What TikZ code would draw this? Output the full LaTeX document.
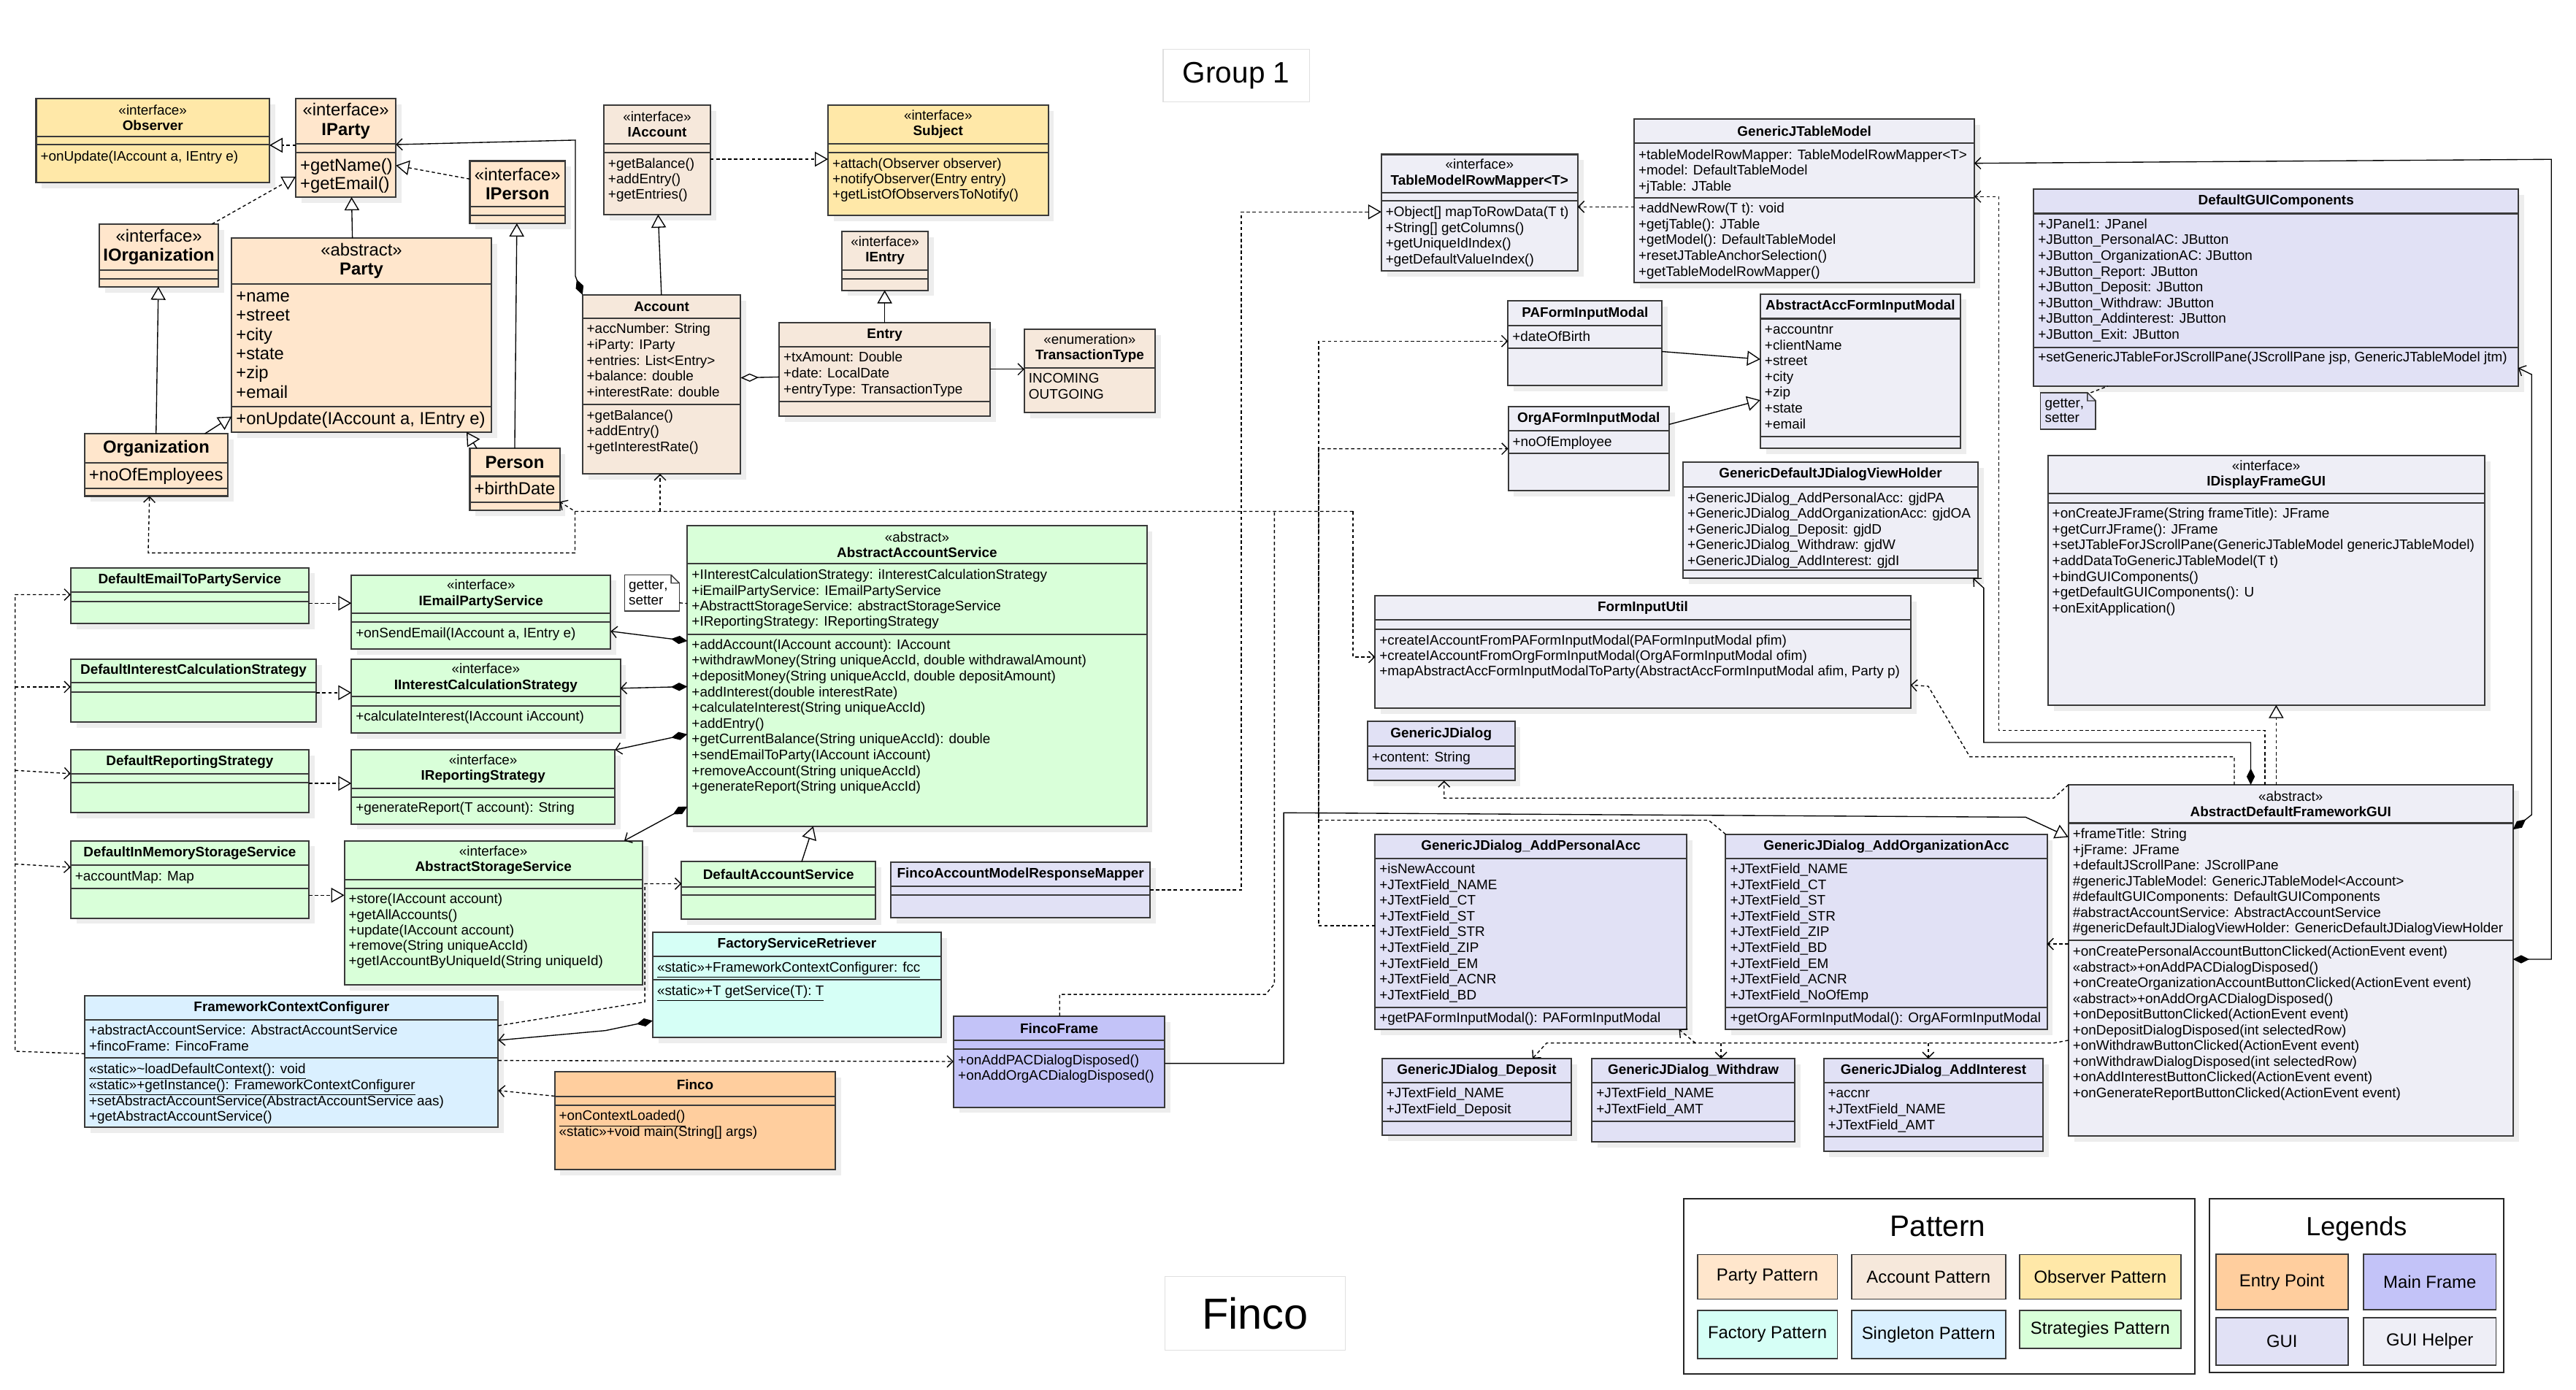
\documentclass[tikz,border=0pt]{standalone}
\usepackage{fontspec}
\setmainfont{Liberation Sans}
\usetikzlibrary{arrows.meta}

\definecolor{partyc}{HTML}{FFE6CC}
\definecolor{accc}{HTML}{F6E8DB}
\definecolor{obsc}{HTML}{FFE8A8}
\definecolor{stratc}{HTML}{D9FFD9}
\definecolor{factc}{HTML}{D6FFF6}
\definecolor{singc}{HTML}{DAF0FF}
\definecolor{entryc}{HTML}{FFCE9E}
\definecolor{mainc}{HTML}{C3C3F8}
\definecolor{guic}{HTML}{E1E1F5}
\definecolor{helpc}{HTML}{EEEEF6}
\definecolor{edgec}{HTML}{3A3A3A}

% class box: name, fill, x1, y1, x2, y2, header line, attribute line
\newcommand{\umlbox}[8]{%
  \fill[boxshadow] (#3+3.5,#4+3.5) rectangle (#5+3.5,#6+3.5);
  \node[umlrect, fill=#2, minimum width={#5-#3}, minimum height={#6-#4}] (#1) at ({(#3+#5)/2},{(#4+#6)/2}) {};
  \draw[umlline] (#3,#7) -- (#5,#7) (#3,#8) -- (#5,#8);
}
% member lines: style, x, first line centre, spacing, list
\newcommand{\umllines}[5][smalltxt]{%
  \foreach \m [count=\i from 0] in {#5}
    \node[#1] at (#2,{#3+\i*#4}) {\m};
}
% folded corner of a note: right x, top y, size
\newcommand{\notefold}[3]{%
  \fill[white] (#1-#3,#2-0.6) -- (#1+0.6,#2-0.6) -- (#1+0.6,#2+#3) -- cycle;
  \draw[umlline, line width=0.6pt] (#1-#3,#2) -- (#1,#2+#3) (#1-#3,#2) -- (#1-#3,#2+#3) -- (#1,#2+#3);
}

\begin{document}
\begin{tikzpicture}[x=1pt, y=-1pt,
  boxshadow/.style={fill=black!7},
  umlrect/.style={draw=edgec, line width=0.9pt, inner sep=0pt, outer sep=0pt},
  umlline/.style={draw=edgec, line width=0.9pt},
  smalltxt/.style={font=\fontsize{8.4}{9.6}\selectfont, inner sep=0pt, anchor=base west, yshift=-2.9pt},
  bigtxt/.style={font=\fontsize{10.6}{11.6}\selectfont, inner sep=0pt, anchor=base west, yshift=-3.7pt},
  headtxt/.style={font=\fontsize{8.4}{9.4}\selectfont, align=center, inner sep=0pt},
  bighead/.style={font=\fontsize{10.6}{11.6}\selectfont, align=center, inner sep=0pt},
  link/.style={draw=black, line width=0.6pt},
  dep/.style={link, dash pattern=on 2pt off 1.6pt, -{Straight Barb[length=3.5pt,width=7pt]}},
  assoc/.style={link, -{Straight Barb[length=3.5pt,width=7pt]}},
  inh/.style={link, -{Triangle[open,length=8pt,width=9pt]}},
  real/.style={inh, dash pattern=on 2pt off 1.6pt},
  comp/.style={link, {Diamond[length=10pt,width=5pt]}-{Straight Barb[length=3.5pt,width=7pt]}},
  aggr/.style={link, {Diamond[open,length=11pt,width=5pt]}-},
  notelink/.style={link, dash pattern=on 2pt off 1.6pt},
  notebox/.style={umlrect, line width=0.7pt},
  titlebox/.style={draw=black!12, fill=white, line width=0.6pt, inner sep=0pt},
  legbox/.style={draw=black!85, fill=white, line width=0.9pt, inner sep=0pt},
  legitem/.style={draw=edgec, line width=0.8pt, inner sep=0pt, font=\fontsize{10.6}{12}\selectfont},
]
\useasboundingbox (0,0) rectangle (1568,846);

% titles
\node[titlebox, minimum width=89, minimum height=32, font=\fontsize{18}{20}\selectfont] (grp) at (752.5,46) {Group 1};
\node[titlebox, minimum width=110, minimum height=45, font=\fontsize{26.5}{28}\selectfont] (ttl) at (764,799.5) {Finco};

% observer pattern
\umlbox{obs}{obsc}{22}{60}{164}{111}{83}{88}
\node[headtxt] (obs-t) at (93,71.5) {«interface»\\\textbf{Observer}};
\umllines{24.5}{94.9}{9.6}{{+onUpdate(IAccount a, IEntry e)}}
\umlbox{subj}{obsc}{504}{64}{638}{131}{87.4}{92.8}
\node[headtxt] (subj-t) at (571,75.7) {«interface»\\\textbf{Subject}};
\umllines{506.5}{99.4}{9.45}{{+attach(Observer observer)},{+notifyObserver(Entry entry)},+getListOfObserversToNotify()}

% party pattern
\umlbox{iparty}{partyc}{180}{60}{241}{120}{87.5}{92.8}
\node[bighead] (iparty-t) at (210.5,73.7) {«interface»\\\textbf{IParty}};
\umllines[bigtxt]{182.5}{100.3}{11.4}{+getName(),+getEmail()}
\umlbox{iperson}{partyc}{286}{98}{344}{136}{125.8}{131}
\node[bighead] (iperson-t) at (315,112) {«interface»\\\textbf{IPerson}};
\umlbox{iorg}{partyc}{60.4}{136.4}{133}{174.5}{164.4}{169.6}
\node[bighead] (iorg-t) at (96.7,150.4) {«interface»\\\textbf{IOrganization}};
\umlbox{party}{partyc}{141}{145}{299}{263}{172.7}{247.4}
\node[bighead] (party-t) at (220,158.9) {«abstract»\\\textbf{Party}};
\umllines[bigtxt]{143.5}{180.1}{11.7}{+name,+street,+city,+state,+zip,+email}
\umllines[bigtxt]{143.5}{254.8}{11.7}{{+onUpdate(IAccount a, IEntry e)}}
\umlbox{org}{partyc}{51.6}{264}{138.6}{302}{281.7}{297.5}
\node[bighead] (org-t) at (95.1,272.9) {\textbf{Organization}};
\umllines[bigtxt]{54}{289}{11.6}{+noOfEmployees}
\umlbox{person}{partyc}{286}{273}{340.7}{310.7}{290}{305.8}
\node[bighead] (person-t) at (313.3,281.5) {\textbf{Person}};
\umllines[bigtxt]{288.5}{297.5}{11.6}{+birthDate}

% account pattern
\umlbox{iacc}{accc}{367.5}{64}{432.4}{130.6}{87.4}{92.8}
\node[headtxt] (iacc-t) at (400,75.7) {«interface»\\\textbf{IAccount}};
\umllines{370}{99.4}{9.45}{+getBalance(),+addEntry(),+getEntries()}
\umlbox{acc}{accc}{354.6}{179.5}{450.8}{288.5}{193.9}{246.2}
\node[headtxt] (acc-t) at (402.7,186.7) {\textbf{Account}};
\umllines{357}{200.2}{9.6}{+accNumber: String,+iParty: IParty,+entries: List<Entry>,+balance: double,+interestRate: double}
\umllines{357}{252.8}{9.6}{+getBalance(),+addEntry(),+getInterestRate()}
\umlbox{ientry}{accc}{512.5}{140.8}{564.9}{176.7}{164.3}{169.6}
\node[headtxt] (ientry-t) at (538.7,152.5) {«interface»\\\textbf{IEntry}};
\umlbox{entry}{accc}{474.2}{196.4}{602.7}{253.4}{211.2}{244.4}
\node[headtxt] (entry-t) at (538.5,203.8) {\textbf{Entry}};
\umllines{476.7}{217.3}{9.85}{+txAmount: Double,+date: LocalDate,+entryType: TransactionType}
\umlbox{ttype}{accc}{623.5}{200.4}{703}{251}{223.8}{223.8}
\node[headtxt] (ttype-t) at (663.3,212.1) {«enumeration»\\\textbf{TransactionType}};
\umllines{626}{230.4}{9.6}{INCOMING,OUTGOING}

% gui helpers
\umlbox{tmrm}{helpc}{840.8}{94}{960.4}{164.9}{117.3}{122.3}
\node[headtxt] (tmrm-t) at (900.6,105.6) {«interface»\\\textbf{TableModelRowMapper<T>}};
\umllines{843.3}{129}{9.6}{{+Object[] mapToRowData(T t)},{+String[] getColumns()},+getUniqueIdIndex(),+getDefaultValueIndex()}
\umlbox{gjtm}{helpc}{994.7}{72.4}{1201.8}{172.2}{87.2}{120.4}
\node[headtxt] (gjtm-t) at (1098.3,79.8) {\textbf{GenericJTableModel}};
\umllines{997.2}{94}{9.6}{+tableModelRowMapper: TableModelRowMapper<T>,+model: DefaultTableModel,+jTable: JTable}
\umllines{997.2}{126.7}{9.6}{+addNewRow(T t): void,+getjTable(): JTable,+getModel(): DefaultTableModel,+resetJTableAnchorSelection(),+getTableModelRowMapper()}
\umlbox{pafim}{helpc}{917.9}{183.3}{1011.6}{234.6}{198.4}{212.1}
\node[headtxt] (pafim-t) at (964.8,190.9) {\textbf{PAFormInputModal}};
\umllines{920.4}{204.9}{9.6}{+dateOfBirth}
\umlbox{orgfim}{helpc}{918}{247.5}{1015.9}{298.5}{262.3}{276}
\node[headtxt] (orgfim-t) at (967,254.9) {\textbf{OrgAFormInputModal}};
\umllines{920.5}{268.8}{9.6}{+noOfEmployee}
\umlbox{aafim}{helpc}{1071.5}{178.9}{1193.2}{272.9}{194}{265.7}
\node[headtxt] (aafim-t) at (1132.4,186.5) {\textbf{AbstractAccFormInputModal}};
\umllines{1074}{200.4}{9.6}{+accountnr,+clientName,+street,+city,+zip,+state,+email}
\umlbox{gdvh}{helpc}{1024.5}{281.5}{1203.9}{352}{296.3}{347}
\node[headtxt] (gdvh-t) at (1114.2,288.9) {\textbf{GenericDefaultJDialogViewHolder}};
\umllines{1027}{302.9}{9.6}{+GenericJDialog\_AddPersonalAcc: gjdPA,+GenericJDialog\_AddOrganizationAcc: gjdOA,+GenericJDialog\_Deposit: gjdD,+GenericJDialog\_Withdraw: gjdW,+GenericJDialog\_AddInterest: gjdI}
\umlbox{idfg}{helpc}{1246.5}{277.3}{1512.3}{429.2}{300.6}{306.2}
\node[headtxt] (idfg-t) at (1379.4,289) {«interface»\\\textbf{IDisplayFrameGUI}};
\umllines{1249}{312.5}{9.6}{{+onCreateJFrame(String frameTitle): JFrame},+getCurrJFrame(): JFrame,{+setJTableForJScrollPane(GenericJTableModel genericJTableModel)},{+addDataToGenericJTableModel(T t)},+bindGUIComponents(),+getDefaultGUIComponents(): U,+onExitApplication()}
\umlbox{fiu}{helpc}{837}{362.5}{1163}{431}{377.5}{383}
\node[headtxt] (fiu-t) at (1000,370) {\textbf{FormInputUtil}};
\umllines{839.5}{389.6}{9.5}{{+createIAccountFromPAFormInputModal(PAFormInputModal pfim)},{+createIAccountFromOrgFormInputModal(OrgAFormInputModal ofim)},{+mapAbstractAccFormInputModalToParty(AbstractAccFormInputModal afim, Party p)}}
\umlbox{adfg}{helpc}{1259}{477.8}{1529.6}{691.6}{501.1}{572.5}
\node[headtxt] (adfg-t) at (1394.3,489.5) {«abstract»\\\textbf{AbstractDefaultFrameworkGUI}};
\umllines{1261.5}{507.6}{9.57}{+frameTitle: String,+jFrame: JFrame,+defaultJScrollPane: JScrollPane,\#genericJTableModel: GenericJTableModel<Account>,\#defaultGUIComponents: DefaultGUIComponents,\#abstractAccountService: AbstractAccountService,\#genericDefaultJDialogViewHolder: GenericDefaultJDialogViewHolder}
\umllines{1261.5}{579.1}{9.56}{{+onCreatePersonalAccountButtonClicked(ActionEvent event)},«abstract»+onAddPACDialogDisposed(),{+onCreateOrganizationAccountButtonClicked(ActionEvent event)},«abstract»+onAddOrgACDialogDisposed(),{+onDepositButtonClicked(ActionEvent event)},{+onDepositDialogDisposed(int selectedRow)},{+onWithdrawButtonClicked(ActionEvent event)},{+onWithdrawDialogDisposed(int selectedRow)},{+onAddInterestButtonClicked(ActionEvent event)},{+onGenerateReportButtonClicked(ActionEvent event)}}

% gui
\umlbox{dgc}{guic}{1237.9}{115.3}{1532.8}{235.1}{130}{211.6}
\node[headtxt] (dgc-t) at (1385.4,122.7) {\textbf{DefaultGUIComponents}};
\umllines{1240.4}{136.4}{9.57}{+JPanel1: JPanel,+JButton\_PersonalAC: JButton,+JButton\_OrganizationAC: JButton,+JButton\_Report: JButton,+JButton\_Deposit: JButton,+JButton\_Withdraw: JButton,+JButton\_Addinterest: JButton,+JButton\_Exit: JButton}
\umllines{1240.4}{217.2}{9.6}{{+setGenericJTableForJScrollPane(JScrollPane jsp, GenericJTableModel jtm)}}
\node[notebox, fill=guic, minimum width=33.6, minimum height=22.3] (gnote) at (1258.8,250.2) {};
\notefold{1275.6}{239}{5}
\umllines{1244.5}{245.2}{9}{getter\rlap{,},setter}
\umlbox{gjd}{guic}{832.5}{439.3}{922}{475.3}{454.4}{468.1}
\node[headtxt] (gjd-t) at (877.2,446.9) {\textbf{GenericJDialog}};
\umllines{835}{461}{9.6}{+content: String}
\umlbox{gjdpa}{guic}{837}{507.9}{1026.6}{626.7}{522.7}{613.3}
\node[headtxt] (gjdpa-t) at (931.8,515.3) {\textbf{GenericJDialog\_AddPersonalAcc}};
\umllines{839.5}{528.9}{9.6}{+isNewAccount,+JTextField\_NAME,+JTextField\_CT,+JTextField\_ST,+JTextField\_STR,+JTextField\_ZIP,+JTextField\_EM,+JTextField\_ACNR,+JTextField\_BD}
\umllines{839.5}{619.6}{9.6}{+getPAFormInputModal(): PAFormInputModal}
\umlbox{gjdoa}{guic}{1050.4}{507.9}{1246}{626.7}{522.7}{613.3}
\node[headtxt] (gjdoa-t) at (1148.2,515.3) {\textbf{GenericJDialog\_AddOrganizationAcc}};
\umllines{1052.9}{528.9}{9.6}{+JTextField\_NAME,+JTextField\_CT,+JTextField\_ST,+JTextField\_STR,+JTextField\_ZIP,+JTextField\_BD,+JTextField\_EM,+JTextField\_ACNR,+JTextField\_NoOfEmp}
\umllines{1052.9}{619.6}{9.6}{+getOrgAFormInputModal(): OrgAFormInputModal}
\umlbox{gjdd}{guic}{841.2}{644.4}{956.6}{691}{659}{682.5}
\node[headtxt] (gjdd-t) at (898.9,651.7) {\textbf{GenericJDialog\_Deposit}};
\umllines{843.7}{665.2}{9.9}{+JTextField\_NAME,+JTextField\_Deposit}
\umlbox{gjdw}{guic}{969}{644.4}{1092.4}{695}{659}{682.5}
\node[headtxt] (gjdw-t) at (1030.7,651.7) {\textbf{GenericJDialog\_Withdraw}};
\umllines{971.5}{665.2}{9.9}{+JTextField\_NAME,+JTextField\_AMT}
\umlbox{gjdi}{guic}{1110}{644.4}{1243.7}{701}{659}{692}
\node[headtxt] (gjdi-t) at (1176.9,651.7) {\textbf{GenericJDialog\_AddInterest}};
\umllines{1112.5}{665.2}{9.75}{+accnr,+JTextField\_NAME,+JTextField\_AMT}
\umlbox{famrm}{guic}{542.4}{524.8}{700}{558.8}{539.6}{544.9}
\node[headtxt] (famrm-t) at (621.2,532.2) {\textbf{FincoAccountModelResponseMapper}};
\umlbox{fframe}{mainc}{580.4}{618.5}{709}{674}{633.3}{638.8}
\node[headtxt] (fframe-t) at (644.7,625.9) {\textbf{FincoFrame}};
\umllines{583}{645.2}{9.3}{+onAddPACDialogDisposed(),+onAddOrgACDialogDisposed()}

% strategies
\umlbox{demail}{stratc}{43}{345.6}{188}{379.7}{360.4}{366}
\node[headtxt] (demail-t) at (115.5,353) {\textbf{DefaultEmailToPartyService}};
\umlbox{iemail}{stratc}{213.9}{350}{371.7}{395.3}{373.2}{378.8}
\node[headtxt] (iemail-t) at (292.8,361.6) {«interface»\\\textbf{IEmailPartyService}};
\umllines{216.4}{385.1}{9.6}{{+onSendEmail(IAccount a, IEntry e)}}
\node[notebox, fill=white, minimum width=33.2, minimum height=22] (snote) at (396.9,361) {};
\notefold{413.5}{350}{5}
\umllines{382.5}{356.2}{9}{getter\rlap{,},setter}
\umlbox{dint}{stratc}{43}{401.3}{192.6}{439.5}{415.7}{421.3}
\node[headtxt] (dint-t) at (117.8,408.5) {\textbf{DefaultInterestCalculationStrategy}};
\umlbox{iint}{stratc}{213.9}{401.3}{377.6}{446.3}{424.2}{429.7}
\node[headtxt] (iint-t) at (295.7,412.7) {«interface»\\\textbf{IInterestCalculationStrategy}};
\umllines{216.4}{436.1}{9.6}{+calculateInterest(IAccount iAccount)}
\umlbox{drep}{stratc}{43}{456.5}{188}{494.8}{471.3}{476.6}
\node[headtxt] (drep-t) at (115.5,463.9) {\textbf{DefaultReportingStrategy}};
\umlbox{irep}{stratc}{213.9}{456.5}{374.4}{501.6}{480}{485.5}
\node[headtxt] (irep-t) at (294.1,468.2) {«interface»\\\textbf{IReportingStrategy}};
\umllines{216.4}{491.7}{9.6}{{+generateReport(T account): String}}
\umlbox{dmem}{stratc}{43}{511.8}{188}{558.9}{526.8}{540.7}
\node[headtxt] (dmem-t) at (115.5,519.3) {\textbf{DefaultInMemoryStorageService}};
\umllines{45.5}{533.4}{9.6}{+accountMap: Map}
\umlbox{astore}{stratc}{209.6}{511.8}{391}{599.7}{535.6}{541}
\node[headtxt] (astore-t) at (300.3,523.7) {«interface»\\\textbf{AbstractStorageService}};
\umllines{212.1}{547.2}{9.45}{+store(IAccount account),+getAllAccounts(),+update(IAccount account),+remove(String uniqueAccId),+getIAccountByUniqueId(String uniqueId)}
\umlbox{aas}{stratc}{418.4}{320}{698}{503}{343.3}{386.2}
\node[headtxt] (aas-t) at (558.2,331.6) {«abstract»\\\textbf{AbstractAccountService}};
\umllines{420.9}{349.9}{9.5}{+IInterestCalculationStrategy: iInterestCalculationStrategy,+iEmailPartyService: IEmailPartyService,+AbstracttStorageService: abstractStorageService,+IReportingStrategy: IReportingStrategy}
\umllines{420.9}{392.3}{9.6}{+addAccount(IAccount account): IAccount,{+withdrawMoney(String uniqueAccId, double withdrawalAmount)},{+depositMoney(String uniqueAccId, double depositAmount)},+addInterest(double interestRate),+calculateInterest(String uniqueAccId),+addEntry(),+getCurrentBalance(String uniqueAccId): double,+sendEmailToParty(IAccount iAccount),+removeAccount(String uniqueAccId),+generateReport(String uniqueAccId)}
\umlbox{das}{stratc}{414.8}{524.6}{533}{559.4}{539.9}{545}
\node[headtxt] (das-t) at (473.9,532.2) {\textbf{DefaultAccountService}};

% factory, singleton, entry point
\umlbox{fsr}{factc}{397.3}{567.4}{573}{631.4}{582.2}{596.3}
\node[headtxt] (fsr-t) at (485.1,574.8) {\textbf{FactoryServiceRetriever}};
\umllines{399.8}{588.9}{9.6}{\underline{«static»+FrameworkContextConfigurer: fcc}}
\umllines{399.8}{603}{9.6}{\underline{«static»+T getService(T): T}}
\umlbox{fcc}{singc}{51.6}{606}{303.3}{686.2}{620.7}{644.1}
\node[headtxt] (fcc-t) at (177.5,613.4) {\textbf{FrameworkContextConfigurer}};
\umllines{54.1}{627.1}{9.6}{+abstractAccountService: AbstractAccountService,+fincoFrame: FincoFrame}
\umllines{54.1}{650.7}{9.65}{\underline{«static»\textasciitilde loadDefaultContext(): void},\underline{«static»+getInstance(): FrameworkContextConfigurer},{+setAbstractAccountService(AbstractAccountService aas)},+getAbstractAccountService()}
\umlbox{finco}{entryc}{337.6}{652.6}{508.6}{711.9}{667.7}{673}
\node[headtxt] (finco-t) at (423.1,660.2) {\textbf{Finco}};
\umllines{340.1}{679.3}{9.6}{\underline{+onContextLoaded()},{«static»+void main(String[] args)}}

% party / account / observer links
\draw[real] (iparty.west |- 0,88.4) -- (obs.east |- 0,88.4);
\draw[real] (iperson.west |- 0,109) -- (iparty.east |- 0,100.7);
\draw[real] (iorg.north -| 129,0) -- (iparty.west |- 0,107.6);
\draw[inh] (party.north -| 214.5,0) -- (iparty.south -| 214,0);
\draw[inh] (org.north -| 95,0) -- (iorg.south -| 96.4,0);
\draw[inh] (org.north -| 124.7,0) -- (party.west |- 0,253.6);
\draw[inh] (person.north -| 290.3,0) -- (party.south -| 284,0);
\draw[inh] (person.north -| 313.3,0) -- (iperson.south -| 314.6,0);
\draw[comp] (acc.north west) -- (350.2,168) -- (350.2,85.3) -- (iparty.east |- 0,88);
\draw[inh] (acc.north -| 402.6,0) -- (iacc.south -| 400.6,0);
\draw[real] (iacc.east |- 0,96.9) -- (subj.west |- 0,96.9);
\draw[inh] (entry.north -| 538.5,0) -- (ientry.south -| 538.5,0);
\draw[aggr] (acc.east |- 0,230) -- (entry.west |- 0,229.5);
\draw[assoc] (entry.east |- 0,224.8) -- (ttype.west |- 0,224.8);
\draw[dep] (823.6,311.3) -- (350,311.3) -- (person.east |- 0,305.5);
\draw[dep] (401.8,311.3) -- (acc.south -| 401.8,0);
\draw[dep] (350,311.3) -- (350,336.6) -- (90.2,336.6) -- (org.south -| 91,0);
\draw[dep] (823.6,311.3) -- (823.6,400) -- (fiu.west |- 0,400);

% gui links
\draw[dep] (gjtm.west |- 0,125.9) -- (tmrm.east |- 0,125.9);
\draw[real] (famrm.east |- 0,541.8) -- (755.6,541.8) -- (755.6,129) -- (tmrm.west |- 0,129);
\draw[inh] (pafim.east |- 0,214) -- (aafim.west |- 0,218.7);
\draw[inh] (orgfim.east |- 0,258.4) -- (aafim.west |- 0,243.6);
\draw[dep] (gjdpa.west |- 0,563.6) -- (802.6,563.6) -- (802.6,207.7) -- (pafim.west |- 0,207.7);
\draw[dep] (gjdoa.north west) -- (1040,499.3) -- (802.6,499.3) -- (802.6,273.2) -- (orgfim.west |- 0,273.2);
\draw[notelink] (fframe.north -| 645,0) -- (645,605.4) -- (770.4,605.4) -- (775.7,599) -- (775.7,311.3);
\draw[comp] (adfg.east |- 0,505) -- (1541,496) -- (1541,228) -- (dgc.east |- 0,224);
\draw[comp] (adfg.east |- 0,584) -- (1553,584) -- (1553,97) -- (gjtm.east |- 0,99.4);
\draw[real] (adfg.north -| 1385.5,0) -- (idfg.south -| 1385.5,0);
\draw[dep] (adfg.north -| 1378.6,0) -- (1378.6,444.6) -- (1216.6,444.6) -- (1216.6,119.7) -- (gjtm.east |- 0,119.7);
\draw[comp] (adfg.north -| 1370,0) -- (1370,452) -- (1207.5,452) -- (1207.5,358) -- (gdvh.south -| 1201,0);
\draw[dep] (adfg.north -| 1360,0) -- (1360,460.7) -- (1199,460.7) -- (1173.7,417.8) -- (fiu.east |- 0,417);
\draw[dep] (adfg.north west) -- (1250,485.9) -- (879,485.9) -- (gjd.south -| 879,0);
\draw[inh] (fframe.east |- 0,647.4) -- (781.4,647.4) -- (781.4,494.8) -- (1233,497.5) -- (adfg.west |- 0,509.6);
\draw[dep] (adfg.west |- 0,574.7) -- (gjdoa.east |- 0,574.7);
\draw[dep] (adfg.west |- 0,633.3) -- (1250,635) -- (941.4,635) -- (gjdd.north -| 932.8,0);
\draw[dep] (1047.6,635) -- (gjdw.north -| 1047.6,0);
\draw[dep] (1173.7,635) -- (gjdi.north -| 1173.7,0);
\draw[dep] (1032,635) -- (gjdpa.south -| 1022,0);
\draw[notelink] (gnote.north east) ++(-3,0) -- (dgc.south -| 1283,0);

% strategy links
\draw[dep] (fcc.west |- 0,641.5) -- (9.2,640) -- (9.2,362) -- (demail.west |- 0,362);
\draw[dep] (9.2,418.2) -- (dint.west |- 0,418.2);
\draw[dep] (9.2,469) -- (drep.west |- 0,471);
\draw[dep] (9.2,526) -- (dmem.west |- 0,528);
\draw[real] (demail.east |- 0,367.2) -- (iemail.west |- 0,367.2);
\draw[real] (dint.east |- 0,421.7) -- (iint.west |- 0,421.7);
\draw[real] (drep.east |- 0,476.9) -- (irep.west |- 0,476.9);
\draw[real] (dmem.east |- 0,545) -- (astore.west |- 0,545);
\draw[comp] (aas.west |- 0,390.2) -- (iemail.east |- 0,384.3);
\draw[comp] (aas.west |- 0,418) -- (iint.east |- 0,419);
\draw[comp] (aas.west |- 0,447) -- (irep.north east);
\draw[comp] (aas.west |- 0,491) -- (astore.north -| 380,0);
\draw[notelink] (snote.east |- 0,367) -- (aas.west |- 0,367.4);
\draw[inh] (das.north -| 488,0) -- (aas.south -| 495,0);
\draw[comp] (fsr.west |- 0,621.4) -- (368.5,627.4) -- (fcc.east |- 0,633.3);
\draw[dep] (fcc.east |- 0,624.4) -- (392.5,610) -- (392.5,538) -- (das.west |- 0,538);
\draw[dep] (fcc.east |- 0,645.6) -- (fframe.west |- 0,646.2);
\draw[dep] (finco.west |- 0,667.3) -- (fcc.east |- 0,663.9);

% pattern key
\node[legbox, minimum width=311.3, minimum height=106.7] (patt) at (1180.4,783) {};
\node[font=\fontsize{18}{20}\selectfont] (patt-t) at (1179.6,746.7) {Pattern};
\node[legitem, fill=partyc, minimum width=85.2, minimum height=27.1] (k1) at (1075.8,777.3) {Party Pattern};
\node[legitem, fill=accc, minimum width=93.7, minimum height=27.1] (k2) at (1173.9,777.3) {Account Pattern};
\node[legitem, fill=obsc, minimum width=98.4, minimum height=27.1] (k3) at (1278.4,777.3) {Observer Pattern};
\node[legitem, fill=factc, minimum width=85.2, minimum height=29.2] (k4) at (1075.8,812.4) {Factory Pattern};
\node[legitem, fill=singc, minimum width=93.7, minimum height=29.2] (k5) at (1173.9,812.4) {Singleton Pattern};
\node[legitem, fill=stratc, minimum width=98.4, minimum height=23] (k6) at (1278.4,809.3) {Strategies Pattern};

% legends key
\node[legbox, minimum width=179, minimum height=106.1] (legd) at (1434.5,782.7) {};
\node[font=\fontsize{16}{18}\selectfont] (legd-t) at (1434.4,748.1) {Legends};
\node[legitem, fill=entryc, minimum width=80.3, minimum height=33.6] (k7) at (1389,780.5) {Entry Point};
\node[legitem, fill=mainc, minimum width=80.6, minimum height=33.6] (k8) at (1479,780.5) {Main Frame};
\node[legitem, fill=guic, minimum width=80.3, minimum height=28.9] (k9) at (1389,816.7) {GUI};
\node[legitem, fill=helpc, minimum width=80.6, minimum height=28.9] (k10) at (1479,816.7) {GUI Helper};
\end{tikzpicture}
\end{document}
